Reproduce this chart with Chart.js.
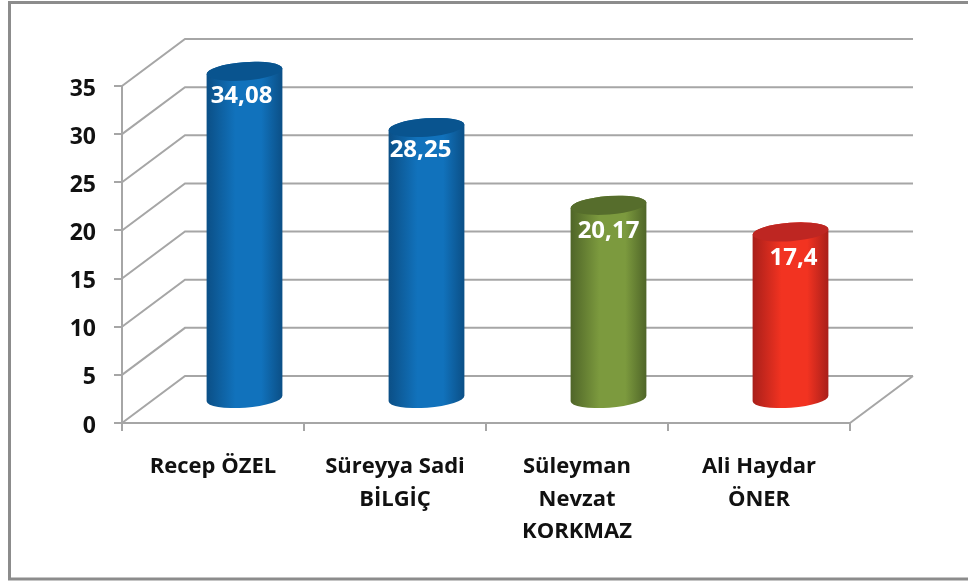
<!DOCTYPE html>
<html><head><meta charset="utf-8">
<style>html,body{margin:0;padding:0;background:#fff}#w{position:absolute;left:0;top:0;width:968px;height:581px}</style>
<script src="https://cdn.jsdelivr.net/npm/chart.js@4"></script></head>
<body><div id="w"><canvas id="c" width="968" height="581"></canvas></div>
<script>
const categories = [["Recep ÖZEL"], ["Süreyya Sadi", "BİLGİÇ"], ["Süleyman", "Nevzat", "KORKMAZ"], ["Ali Haydar", "ÖNER"]];
const values = [34.08, 28.25, 20.17, 17.4];
const valueLabels = ["34,08", "28,25", "20,17", "17,4"];
const sideDark = ["#0b4f86", "#0b4f86", "#4f6528", "#a81f1a"];
const sideLight = ["#1172bc", "#1172bc", "#7c9a3e", "#f23321"];
const topColors = ["#09548f", "#09548f", "#566d2c", "#be2622"];
const labelShiftX = [-3, -6, 0, 3];
const labelShiftY = [25, 23, 26, 26];
const GRID = "#a6a6a6", TEXT = "#111111";
const FONT = '"Open Sans", sans-serif';
const DEPTH_X = 63, DEPTH_Y = 47, BAR_W = 76;

function ellipse(ctx, cx, cy, rx, ry, start, end, ccw) {
  ctx.ellipse(cx, cy, rx, ry, -0.075, start, end, ccw);
}
const frame = {
  id: "frame",
  beforeDraw(chart) {
    const ctx = chart.ctx;
    ctx.save();
    ctx.fillStyle = "#fff"; ctx.fillRect(0, 0, 968, 581);
    ctx.strokeStyle = "#8c8c8c"; ctx.lineWidth = 3;
    ctx.beginPath();
    ctx.moveTo(968, 2.5); ctx.lineTo(9.5, 2.5); ctx.lineTo(9.5, 579); ctx.lineTo(968, 579);
    ctx.stroke();
    ctx.restore();
  },
  beforeDatasetsDraw(chart) {
    const { ctx, scales: { x, y } } = chart;
    ctx.save();
    ctx.strokeStyle = GRID; ctx.lineWidth = 2;
    ctx.beginPath();
    for (const t of y.ticks) {
      const py = y.getPixelForValue(t.value);
      ctx.moveTo(x.left, py);
      ctx.lineTo(x.left + DEPTH_X, py - DEPTH_Y);
      ctx.lineTo(x.right + DEPTH_X, py - DEPTH_Y);
    }
    const by = y.getPixelForValue(0);
    ctx.moveTo(x.right, by);
    ctx.lineTo(x.right + DEPTH_X, by - DEPTH_Y);
    ctx.stroke();
    ctx.restore();
  },
  beforeDatasetDraw(chart, args) {
    const { ctx } = chart;
    const meta = args.meta;
    meta.data.forEach((el, i) => {
      const cx = el.x + DEPTH_X / 2, rx = BAR_W / 2, ry = 9.2;
      const topY = el.y - DEPTH_Y / 2, baseY = el.base - DEPTH_Y / 2;
      const g = ctx.createLinearGradient(cx - rx, 0, cx + rx, 0);
      g.addColorStop(0, sideDark[i]);
      g.addColorStop(0.38, sideLight[i]);
      g.addColorStop(0.72, sideLight[i]);
      g.addColorStop(1, sideDark[i]);
      ctx.save();
      ctx.fillStyle = g;
      ctx.beginPath();
      ellipse(ctx, cx, topY, rx, ry, Math.PI, 0, false);
      ellipse(ctx, cx, baseY, rx, ry, 0, Math.PI, false);
      ctx.closePath();
      ctx.fill();
      ctx.fillStyle = topColors[i];
      ctx.beginPath();
      ellipse(ctx, cx, topY, rx, ry, 0, Math.PI * 2, false);
      ctx.fill();
      ctx.fillStyle = "#fff";
      ctx.font = '700 24px ' + FONT;
      ctx.textAlign = "center"; ctx.textBaseline = "middle";
      ctx.fillText(valueLabels[i], cx + labelShiftX[i], topY + labelShiftY[i]);
      ctx.restore();
    });
    return false;
  }
};
new Chart(document.getElementById("c"), {
  type: "bar",
  data: { labels: categories, datasets: [{ data: values, backgroundColor: sideLight }] },
  options: {
    responsive: false, animation: false,
    layout: { padding: { left: 52, top: 86, right: 118, bottom: 0 } },
    plugins: { legend: { display: false }, tooltip: { enabled: false } },
    scales: {
      x: {
        afterFit(s) { s.height = 158; },
        grid: { drawOnChartArea: false, drawTicks: true, tickLength: 8, color: GRID, lineWidth: 2, offset: true },
        border: { color: GRID, width: 2 },
        ticks: { color: TEXT, font: { family: FONT, size: 22, weight: "700", lineHeight: 1.47 }, padding: 20, maxRotation: 0, autoSkip: false }
      },
      y: {
        min: 0, max: 35,
        grid: { drawOnChartArea: false, drawTicks: true, tickLength: 8, color: GRID, lineWidth: 2 },
        border: { color: GRID, width: 2 },
        afterFit(s) { s.width = 70; },
        ticks: { stepSize: 5, color: TEXT, font: { family: FONT, size: 23, weight: "700" }, padding: 18, labelOffset: 3 }
      }
    }
  },
  plugins: [frame]
});
</script></body></html>
